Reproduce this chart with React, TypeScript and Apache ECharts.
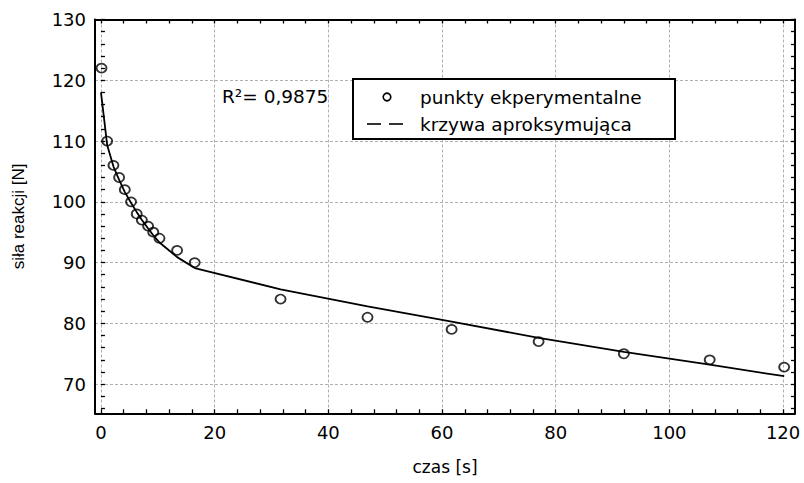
import React, { useEffect, useRef } from "react";
import * as echarts from "echarts";

// experimental points
const timeS = [0.1, 1.1, 2.2, 3.2, 4.2, 5.3, 6.3, 7.2, 8.3, 9.2, 10.3, 13.4, 16.5, 31.6, 46.9, 61.7, 77.0, 92.0, 107.1, 120.2];
const forceN = [122, 110, 106, 104, 102, 100, 98, 97, 96, 95, 94, 92, 90, 84, 81, 79, 77, 75, 74, 72.8];

// approximating curve
const curveX = [0, 1.1, 2.2, 3.2, 4.2, 5.3, 6.3, 7.2, 8.3, 9.2, 10.3, 13.4, 16.5, 31.6, 46.9, 61.7, 77.0, 92.0, 107.1, 120.2];
const curveY = [118, 109.3, 105.8, 103.6, 101.6, 99.8, 98.3, 97.0, 95.6, 94.5, 93.3, 90.9, 89.1, 85.6, 82.8, 80.3, 77.6, 75.3, 73.2, 71.3];

// axes
const xTickLabels = [0, 20, 40, 60, 80, 100, 120];
const yTickLabels = [70, 80, 90, 100, 110, 120, 130];
const xMin = -1.05;
const xMax = 122.1;
const yMin = 65.2;
const yMax = 130;

const seriesNames = ["punkty ekperymentalne", "krzywa aproksymująca"];
const r2Text = "R²= 0,9875";

const xMinor: number[] = [];
for (let v = 0; v <= 120; v += 4) xMinor.push(v);
const yMinor: number[] = [];
for (let v = 66; v <= 130; v += 2) yMinor.push(v);

const HFONT = "DejaVu Sans";

export default function App() {
  const ref = useRef<HTMLDivElement>(null);
  useEffect(() => {
    if (!ref.current) return;
    const chart = echarts.init(ref.current, null, { renderer: "svg" });
    const gridStyle = { color: "#b0b0b0", width: 1, type: [3, 2] as any };
    const tickOverlay = (custom: number[]) => ({
      show: true,
      inside: true,
      length: 4,
      customValues: custom,
      lineStyle: { color: "#000", width: 1.3 },
    });
    const frameLine = { show: true, onZero: false, lineStyle: { color: "#000", width: 2 } };
    chart.setOption({
      animation: false,
      backgroundColor: "#fff",
      grid: { left: 95, right: 9, top: 19.5, bottom: 69.7 },
      xAxis: [
        {
          type: "value",
          min: xMin,
          max: xMax,
          position: "bottom",
          axisLine: frameLine,
          axisTick: { show: false, customValues: xTickLabels },
          axisLabel: {
            customValues: xTickLabels,
            color: "#000",
            fontFamily: HFONT,
            fontSize: 18,
            margin: 10,
          },
          splitLine: { show: true, lineStyle: gridStyle },
          name: "czas [s]",
          nameLocation: "middle",
          nameGap: 45,
          nameTextStyle: { color: "#000", fontFamily: HFONT, fontSize: 17 },
        },
        {
          type: "value",
          min: xMin,
          max: xMax,
          position: "bottom",
          axisLine: { show: false },
          axisTick: tickOverlay(xMinor),
          axisLabel: { show: false },
          splitLine: { show: false },
        },
        {
          type: "value",
          min: xMin,
          max: xMax,
          position: "top",
          axisLine: frameLine,
          axisTick: tickOverlay(xMinor),
          axisLabel: { show: false },
          splitLine: { show: false },
        },
      ],
      yAxis: [
        {
          type: "value",
          min: yMin,
          max: yMax,
          position: "left",
          axisLine: frameLine,
          axisTick: { show: false, customValues: yTickLabels },
          axisLabel: {
            customValues: yTickLabels,
            color: "#000",
            fontFamily: HFONT,
            fontSize: 18,
            margin: 9,
          },
          splitLine: { show: true, lineStyle: gridStyle },
          name: "siła reakcji [N]",
          nameLocation: "middle",
          nameGap: 68,
          nameTextStyle: { color: "#000", fontFamily: "Liberation Sans", fontSize: 17 },
        },
        {
          type: "value",
          min: yMin,
          max: yMax,
          position: "left",
          axisLine: { show: false },
          axisTick: tickOverlay(yMinor),
          axisLabel: { show: false },
          splitLine: { show: false },
        },
        {
          type: "value",
          min: yMin,
          max: yMax,
          position: "right",
          axisLine: frameLine,
          axisTick: tickOverlay(yMinor),
          axisLabel: { show: false },
          splitLine: { show: false },
        },
      ],
      series: [
        {
          name: seriesNames[1],
          type: "line",
          xAxisIndex: 0,
          yAxisIndex: 0,
          data: curveX.map((x, i) => [x, curveY[i]]),
          showSymbol: false,
          symbol: "none",
          lineStyle: { color: "#000", width: 1.8 },
          z: 3,
        },
        {
          name: seriesNames[0],
          type: "scatter",
          xAxisIndex: 0,
          yAxisIndex: 0,
          data: timeS.map((x, i) => [x, forceN[i]]),
          symbol: "circle",
          symbolSize: [10, 9],
          itemStyle: { color: "rgba(255,255,255,0)", borderColor: "#000", borderWidth: 1.8 },
          z: 4,
        },
      ],
      graphic: [
        {
          type: "text",
          x: 222,
          y: 96,
          z: 100,
          style: { text: r2Text, fontFamily: HFONT, fontSize: 18.5, fill: "#000", align: "left", verticalAlign: "middle" },
        },
        {
          type: "rect",
          z: 100,
          shape: { x: 353, y: 79, width: 322, height: 60 },
          style: { fill: "#fff", stroke: "#000", lineWidth: 2 },
        },
        {
          type: "circle",
          z: 101,
          shape: { cx: 387, cy: 97, r: 3.8 },
          style: { fill: "#fff", stroke: "#000", lineWidth: 1.6 },
        },
        {
          type: "line",
          z: 101,
          shape: { x1: 367, y1: 124, x2: 381, y2: 124 },
          style: { stroke: "#000", lineWidth: 1.6 },
        },
        {
          type: "line",
          z: 101,
          shape: { x1: 389, y1: 124, x2: 403, y2: 124 },
          style: { stroke: "#000", lineWidth: 1.6 },
        },
        {
          type: "text",
          x: 420,
          y: 97,
          z: 101,
          style: { text: seriesNames[0], fontFamily: HFONT, fontSize: 18.5, fill: "#000", align: "left", verticalAlign: "middle" },
        },
        {
          type: "text",
          x: 420,
          y: 124,
          z: 101,
          style: { text: seriesNames[1], fontFamily: HFONT, fontSize: 18.5, fill: "#000", align: "left", verticalAlign: "middle" },
        },
      ],
    });
    return () => chart.dispose();
  }, []);
  return (
    <div
      ref={ref}
      style={{ position: "fixed", left: 0, top: 0, width: 804, height: 483, background: "#fff" }}
    />
  );
}
